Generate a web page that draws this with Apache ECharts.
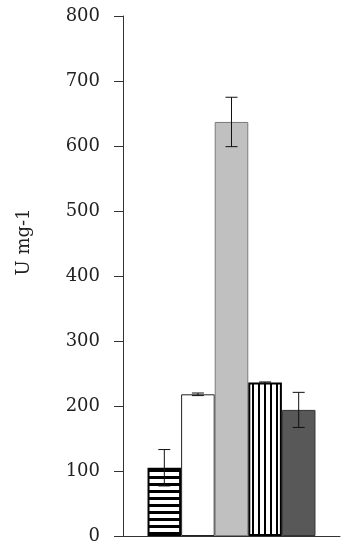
<!DOCTYPE html>
<html>
<head>
<meta charset="utf-8">
<script src="https://cdn.jsdelivr.net/npm/echarts@6/dist/echarts.min.js"></script>
<style>
  html, body { margin: 0; padding: 0; background: #fff; }
  #chart { width: 348px; height: 550px; }
</style>
</head>
<body>
<div id="chart"></div>
<script>
  // data
  const seriesNames = ['A', 'B', 'C', 'D', 'E']
  const means = [105, 218, 637, 236, 194]
  const errors = [28, 2, 38, 1, 27]
  const yMin = 0
  const yMax = 800
  const yStep = 100
  const yName = 'U mg-1'

  const gapRatio = 0.226

  function stripes (horizontal) {
    const c = document.createElement('canvas')
    c.width = horizontal ? 4 : 6
    c.height = horizontal ? 7 : 4
    const ctx = c.getContext('2d')
    ctx.fillStyle = '#fff'
    ctx.fillRect(0, 0, c.width, c.height)
    ctx.fillStyle = '#000'
    if (horizontal) ctx.fillRect(0, 0, c.width, 3)
    else ctx.fillRect(0, 0, 2, c.height)
    return { image: c, repeat: 'repeat' }
  }

  const styles = [
    { color: stripes(true), borderColor: '#000', borderWidth: 2 },
    { color: '#fff', borderColor: '#222', borderWidth: 1 },
    { color: '#c0c0c0', borderColor: '#7a7a7a', borderWidth: 1 },
    { color: stripes(false), borderColor: '#000', borderWidth: 2 },
    { color: '#585858', borderColor: '#333', borderWidth: 1 }
  ]

  const chart = echarts.init(document.getElementById('chart'))

  const series = seriesNames.map((name, i) => ({
    name: name,
    type: 'bar',
    barGap: '0%',
    barCategoryGap: (gapRatio * 100) + '%',
    itemStyle: styles[i],
    data: [means[i]]
  }))

  series.push({
    type: 'custom',
    z: 10,
    renderItem: function (params, api) {
      const i = api.value(3)
      const lo = api.coord([0, api.value(1)])
      const hi = api.coord([0, api.value(2)])
      const band = api.size([1, 0])[0]
      const total = band * (1 - gapRatio)
      const bw = total / seriesNames.length
      const x = lo[0] - total / 2 + (i + 0.5) * bw
      const half = 6
      const st = { stroke: '#111', lineWidth: 1 }
      return {
        type: 'group',
        children: [
          { type: 'line', shape: { x1: x, y1: hi[1], x2: x, y2: lo[1] }, style: st },
          { type: 'line', shape: { x1: x - half, y1: hi[1], x2: x + half, y2: hi[1] }, style: st },
          { type: 'line', shape: { x1: x - half, y1: lo[1], x2: x + half, y2: lo[1] }, style: st }
        ]
      }
    },
    encode: { x: 0, y: [1, 2] },
    data: means.map((m, i) => [0, m - errors[i], m + errors[i], i])
  })

  chart.setOption({
    animation: false,
    grid: { left: 123, right: 8, top: 16, bottom: 14 },
    xAxis: {
      type: 'category',
      data: [''],
      axisLine: { lineStyle: { color: '#333', width: 1 } },
      axisTick: { show: false },
      axisLabel: { show: false }
    },
    yAxis: {
      type: 'value',
      min: yMin,
      max: yMax,
      interval: yStep,
      axisLine: { show: true, lineStyle: { color: '#333', width: 1 } },
      axisTick: { show: true, length: 9, lineStyle: { color: '#333' } },
      splitLine: { show: false },
      axisLabel: {
        margin: 23,
        color: '#222',
        fontFamily: 'DejaVu Serif',
        fontSize: 18
      }
    },
    graphic: [{
      type: 'text',
      x: 24,
      y: 242,
      rotation: Math.PI / 2,
      style: {
        text: yName,
        fill: '#222',
        fontFamily: 'DejaVu Serif',
        fontSize: 18,
        align: 'center',
        verticalAlign: 'middle'
      }
    }],
    series: series
  })
</script>
</body>
</html>
